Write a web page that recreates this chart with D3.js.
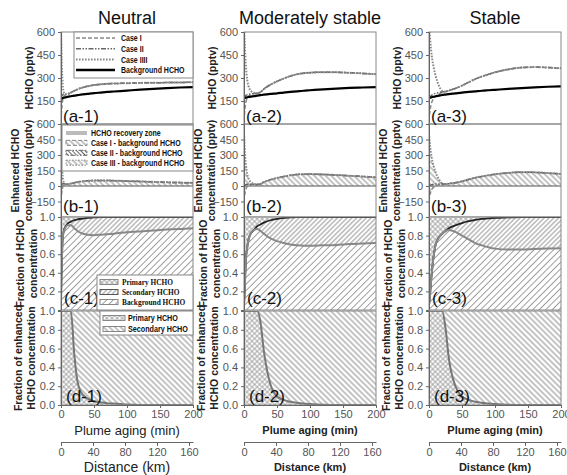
<!DOCTYPE html>
<html>
<head>
<meta charset="utf-8">
<script src="https://cdn.jsdelivr.net/npm/d3@7"></script>
<style>
  body { margin: 0; background: #fff; }
  text { font-family: "Liberation Sans", Arial, sans-serif; }
</style>
</head>
<body>
<svg width="567" height="475"></svg>
<script>
// ---------------------------------------------------------------------------------
// Data. One value per time step (plume aging, min).
// ---------------------------------------------------------------------------------
const times = [0, 1, 2, 3, 5, 7, 10, 15, 20, 25, 30, 40, 50, 60, 70, 80, 90, 100, 120, 140, 160, 180, 200];

const titles = ['Neutral', 'Moderately stable', 'Stable'];
const panelIds = ['1', '2', '3'];

// (a) HCHO, pptv
const bgNeutral   = [165, 167, 168, 170, 172, 174, 177, 181, 185, 188, 191, 196, 201, 205, 209, 212, 215, 218, 224, 229, 234, 238, 241];
const c1Neutral   = [ 20,  95, 140, 165, 185, 190, 194, 205, 216, 226, 234, 246, 254, 259, 262, 264, 265, 266, 268, 269, 270, 271, 272];
const c2Neutral   = [168, 180, 188, 192, 196, 195, 196, 205, 216, 226, 234, 246, 254, 259, 262, 264, 265, 266, 268, 269, 270, 271, 272];
const c3Neutral   = [680, 420, 300, 235, 200, 192, 194, 205, 216, 226, 234, 246, 254, 259, 262, 264, 265, 266, 268, 269, 270, 271, 272];

const bgModerate  = [168, 170, 171, 172, 174, 176, 178, 182, 185, 188, 191, 196, 200, 205, 209, 213, 217, 220, 226, 231, 235, 238, 241];
const c1Moderate  = [ 20,  80, 120, 145, 170, 182, 190, 197, 200, 208, 228, 256, 278, 296, 312, 324, 331, 335, 338, 337, 334, 330, 325];
const c2Moderate  = [170, 178, 183, 187, 191, 194, 196, 199, 200, 208, 228, 256, 278, 296, 312, 324, 331, 335, 338, 337, 334, 330, 325];
const c3Moderate  = [680, 540, 440, 370, 285, 245, 218, 204, 200, 208, 228, 256, 278, 296, 312, 324, 331, 335, 338, 337, 334, 330, 325];

const bgStable    = [168, 170, 172, 173, 176, 178, 181, 185, 189, 192, 195, 200, 205, 209, 213, 217, 220, 223, 229, 234, 239, 243, 246];
const c1Stable    = [ 20,  70, 100, 125, 150, 165, 180, 195, 205, 210, 218, 232, 250, 272, 293, 310, 324, 337, 356, 368, 371, 368, 363];
const c2Stable    = [170, 176, 180, 184, 190, 195, 200, 205, 210, 211, 218, 232, 250, 272, 293, 310, 324, 337, 356, 368, 371, 368, 363];
const c3Stable    = [680, 600, 540, 490, 420, 370, 315, 250, 216, 212, 218, 232, 250, 272, 293, 310, 324, 337, 356, 368, 371, 368, 363];

// (c) fraction of HCHO: background share (grey line) and background+secondary (dark line)
const fBgNeutral  = [0.10, 0.45, 0.70, 0.80, 0.86, 0.89, 0.91, 0.91, 0.88, 0.85, 0.83, 0.81, 0.805, 0.81, 0.815, 0.82, 0.83, 0.835, 0.845, 0.855, 0.865, 0.87, 0.88];
const fSecNeutral = [0.10, 0.45, 0.70, 0.80, 0.87, 0.90, 0.93, 0.95, 0.965, 0.975, 0.98, 0.99, 0.995, 1, 1, 1, 1, 1, 1, 1, 1, 1, 1];
const fBgModerate = [0.05, 0.20, 0.40, 0.55, 0.68, 0.76, 0.82, 0.86, 0.87, 0.85, 0.82, 0.77, 0.74, 0.72, 0.705, 0.695, 0.69, 0.69, 0.695, 0.70, 0.71, 0.715, 0.72];
const fSecModerate= [0.05, 0.20, 0.40, 0.55, 0.68, 0.76, 0.82, 0.86, 0.90, 0.92, 0.94, 0.965, 0.98, 0.99, 0.995, 1, 1, 1, 1, 1, 1, 1, 1];
const fBgStable   = [0.05, 0.12, 0.20, 0.30, 0.45, 0.58, 0.70, 0.78, 0.82, 0.85, 0.86, 0.84, 0.80, 0.76, 0.72, 0.695, 0.675, 0.66, 0.65, 0.65, 0.655, 0.66, 0.665];
const fSecStable  = [0.05, 0.12, 0.20, 0.30, 0.45, 0.58, 0.70, 0.78, 0.82, 0.85, 0.88, 0.91, 0.935, 0.955, 0.97, 0.98, 0.985, 0.99, 0.995, 1, 1, 1, 1];

// (d) primary share of enhanced HCHO
const fPrimNeutral  = [1, 1, 1, 1, 1, 1, 1, 1, 0.55, 0.25, 0.14, 0.07, 0.04, 0.03, 0.02, 0.015, 0.01, 0.005, 0, 0, 0, 0, 0];
const fPrimModerate = [1, 1, 1, 1, 1, 1, 1, 1, 1, 0.88, 0.58, 0.22, 0.09, 0.055, 0.035, 0.025, 0.015, 0.01, 0.003, 0, 0, 0, 0];
const fPrimStable   = [1, 1, 1, 1, 1, 1, 1, 1, 1, 0.82, 0.50, 0.20, 0.09, 0.055, 0.035, 0.025, 0.015, 0.01, 0.003, 0, 0, 0, 0];

// tick labels
const ticksA = [150, 300, 450, 600];
const ticksB = [-150, 0, 150, 300, 450, 600];
const ticksC = [0.2, 0.4, 0.6, 0.8, 1.0];
const ticksD = [0, 0.2, 0.4, 0.6, 0.8, 1.0];
const ticksMin = [0, 50, 100, 150, 200];
const ticksKm = [0, 40, 80, 120, 160];

const legendA = ['Case I', 'Case II', 'Case IIII', 'Background HCHO'];
const legendB = ['HCHO recovery zone', 'Case I - background HCHO', 'Case II - background HCHO', 'Case III - background HCHO'];
const legendC = ['Primary HCHO', 'Secondary HCHO', 'Background HCHO'];
const legendD = ['Primary HCHO', 'Secondary HCHO'];

// table used for drawing
const columns = [
  { bg: bgNeutral,  cases: [c1Neutral,  c2Neutral,  c3Neutral],  fBg: fBgNeutral,  fSec: fSecNeutral,  fPrim: fPrimNeutral },
  { bg: bgModerate, cases: [c1Moderate, c2Moderate, c3Moderate], fBg: fBgModerate, fSec: fSecModerate, fPrim: fPrimModerate },
  { bg: bgStable,   cases: [c1Stable,   c2Stable,   c3Stable],   fBg: fBgStable,   fSec: fSecStable,   fPrim: fPrimStable }
];

// ---------------------------------------------------------------------------------
// Layout
// ---------------------------------------------------------------------------------
const svg = d3.select('svg');
const colX = [61, 244, 429], plotW = 132;
const rows = { a: [32, 124], b: [124, 217], c: [217, 310], d: [311, 405] };
const caseDash = ['4,2', '5,1.5,1.5,1.5,1.5,1.5', '1.6,1.4'];
const caseColor = ['#888', '#666', '#888'];

const defs = svg.append('defs');
function hatch(id, angle, gap, color, w, cross) {
  const p = defs.append('pattern').attr('id', id)
    .attr('patternUnits', 'userSpaceOnUse')
    .attr('width', gap).attr('height', gap)
    .attr('patternTransform', `rotate(${angle})`);
  p.append('rect').attr('width', gap).attr('height', gap).attr('fill', '#fff');
  p.append('line').attr('x1', gap / 2).attr('x2', gap / 2).attr('y1', 0).attr('y2', gap)
    .attr('stroke', color).attr('stroke-width', w);
  if (cross) p.append('line').attr('y1', gap / 2).attr('y2', gap / 2).attr('x1', 0).attr('x2', gap)
    .attr('stroke', color).attr('stroke-width', w);
}
hatch('cross', 45, 3.6, '#888', 0.7, true);
hatch('bgHatch', 45, 4.6, '#777', 0.7, false);
hatch('secHatch', 45, 3.4, '#666', 0.7, false);
hatch('backHatch', -45, 4, '#555', 0.7, false);
hatch('backHatch2', -45, 3, '#444', 0.8, false);

function clip(id, x0, r) {
  defs.append('clipPath').attr('id', id).append('rect')
    .attr('x', x0).attr('y', r[0]).attr('width', plotW).attr('height', r[1] - r[0]);
  return `url(#${id})`;
}

function yAxis(g, y, vals, fmt) {
  const ax = g.append('g').attr('transform', `translate(${y.x0},0)`)
    .call(d3.axisLeft(y).tickValues(vals).tickSize(3).tickPadding(3).tickFormat(fmt));
  ax.select('.domain').attr('stroke', '#666');
  ax.selectAll('.tick line').attr('stroke', '#666');
  ax.selectAll('text').attr('fill', '#555').style('font-size', '11px');
}

function yLabel(x, yMid, lines, offsets) {
  lines.forEach((t, i) => {
    svg.append('text')
      .attr('transform', `translate(${x + offsets[i]},${yMid}) rotate(-90)`)
      .attr('text-anchor', 'middle').attr('dy', '0.35em')
      .style('font-size', '10.5px').style('font-weight', 'bold').attr('fill', '#222')
      .text(t);
  });
}

function frame(x0, r) {
  svg.append('rect').attr('x', x0).attr('y', r[0]).attr('width', plotW).attr('height', r[1] - r[0])
    .attr('fill', 'none').attr('stroke', '#888').attr('stroke-width', 1);
}

function panelLabel(x0, yBase, t) {
  svg.append('text').attr('x', x0 + 2).attr('y', yBase)
    .style('font-size', '17px').attr('fill', '#111').text(t);
}

columns.forEach((col, ci) => {
  const x0 = colX[ci];
  const id = panelIds[ci];
  const x = d3.scaleLinear().domain([0, 200]).range([x0, x0 + plotW]);
  const km = d3.scaleLinear().domain([0, 165]).range([x0, x0 + plotW]);
  const ya = d3.scaleLinear().domain([0, 600]).range([rows.a[1], rows.a[0]]);
  const yb = d3.scaleLinear().domain([-300, 600]).range([rows.b[1], rows.b[0]]);
  const yc = d3.scaleLinear().domain([0, 1]).range([rows.c[1], rows.c[0]]);
  const yd = d3.scaleLinear().domain([0, 1]).range([rows.d[1], rows.d[0]]);
  [ya, yb, yc, yd].forEach(s => s.x0 = x0);

  const line = (y) => d3.line().x((d, i) => x(times[i])).y(d => y(d)).curve(d3.curveMonotoneX);

  // title
  svg.append('text').attr('x', x0 + plotW / 2).attr('y', 24).attr('text-anchor', 'middle')
    .style('font-size', '18px').attr('fill', '#111').text(titles[ci]);

  // ---------------- (a) HCHO ----------------
  const ga = svg.append('g').attr('clip-path', clip('ca' + ci, x0, rows.a));
  col.cases.forEach((c, k) => {
    ga.append('path').attr('d', line(ya)(c)).attr('fill', 'none')
      .attr('stroke', caseColor[k]).attr('stroke-width', k === 2 ? 2 : 1.5)
      .attr('stroke-dasharray', caseDash[k]);
  });
  ga.append('path').attr('d', line(ya)(col.bg)).attr('fill', 'none')
    .attr('stroke', '#000').attr('stroke-width', 2.2);
  frame(x0, rows.a);
  yAxis(svg, ya, ticksA, d3.format('d'));

  // ---------------- (b) enhanced HCHO ----------------
  const gb = svg.append('g').attr('clip-path', clip('cb' + ci, x0, rows.b));
  const enh = col.cases.map(c => c.map((v, i) => v - col.bg[i]));
  const areaB = d3.area().x((d, i) => x(times[i])).y0(yb(0)).y1(d => yb(d)).curve(d3.curveMonotoneX);
  enh.forEach((e, k) => {
    gb.append('path').attr('d', areaB(e)).attr('fill', 'url(#backHatch)').attr('stroke', 'none');
  });
  gb.append('line').attr('x1', x0).attr('x2', x0 + plotW).attr('y1', yb(0)).attr('y2', yb(0))
    .attr('stroke', '#555').attr('stroke-width', 1);
  enh.forEach((e, k) => {
    gb.append('path').attr('d', line(yb)(e)).attr('fill', 'none')
      .attr('stroke', caseColor[k]).attr('stroke-width', k === 2 ? 2 : 1.5)
      .attr('stroke-dasharray', caseDash[k]);
  });
  frame(x0, rows.b);
  yAxis(svg, yb, ticksB, d3.format('d'));

  // ---------------- (c) fraction of HCHO ----------------
  const gc = svg.append('g').attr('clip-path', clip('cc' + ci, x0, rows.c));
  const areaC = (lo, hi) => d3.area().x((d, i) => x(times[i]))
    .y0((d, i) => yc(lo ? lo[i] : 0)).y1((d, i) => yc(hi ? hi[i] : 1)).curve(d3.curveMonotoneX)(times);
  gc.append('path').attr('d', areaC(null, col.fBg)).attr('fill', 'url(#bgHatch)');
  gc.append('path').attr('d', areaC(col.fBg, col.fSec)).attr('fill', 'url(#secHatch)');
  gc.append('path').attr('d', areaC(col.fSec, null)).attr('fill', 'url(#cross)');
  gc.append('path').attr('d', line(yc)(col.fSec)).attr('fill', 'none').attr('stroke', '#222').attr('stroke-width', 1.8);
  gc.append('path').attr('d', line(yc)(col.fBg)).attr('fill', 'none').attr('stroke', '#888').attr('stroke-width', 2);
  frame(x0, rows.c);
  yAxis(svg, yc, ticksC, d3.format('.1f'));

  // ---------------- (d) fraction of enhanced HCHO ----------------
  const gd = svg.append('g').attr('clip-path', clip('cd' + ci, x0, rows.d));
  const areaD = (lo, hi) => d3.area().x((d, i) => x(times[i]))
    .y0((d, i) => yd(lo ? lo[i] : 0)).y1((d, i) => yd(hi ? hi[i] : 1)).curve(d3.curveMonotoneX)(times);
  gd.append('path').attr('d', areaD(null, col.fPrim)).attr('fill', 'url(#cross)');
  gd.append('path').attr('d', areaD(col.fPrim, null)).attr('fill', 'url(#backHatch)');
  gd.append('path').attr('d', line(yd)(col.fPrim)).attr('fill', 'none').attr('stroke', '#777').attr('stroke-width', 2);
  frame(x0, rows.d);
  yAxis(svg, yd, ticksD, d3.format('.1f'));

  // ---------------- x axes ----------------
  const bold = ci > 0;
  const xa = svg.append('g').attr('transform', `translate(0,${rows.d[1]})`)
    .call(d3.axisBottom(x).tickValues(ticksMin).tickSize(3).tickPadding(2).tickSizeOuter(0));
  xa.select('.domain').attr('stroke', '#666');
  xa.selectAll('.tick line').attr('stroke', '#666');
  xa.selectAll('text').attr('fill', '#555').style('font-size', '11px');
  svg.append('text').attr('x', x0 + plotW / 2).attr('y', 430).attr('dy', '0.35em').attr('text-anchor', 'middle')
    .style('font-size', bold ? '11px' : '13px').style('font-weight', bold ? 'bold' : 'normal')
    .attr('fill', '#222').text('Plume aging (min)');

  const xk = svg.append('g').attr('transform', 'translate(0,442)')
    .call(d3.axisBottom(km).tickValues(ticksKm).tickSize(4).tickPadding(2).tickSizeOuter(0));
  xk.select('.domain').attr('stroke', '#666');
  xk.selectAll('.tick line').attr('stroke', '#666');
  xk.selectAll('text').attr('fill', '#555').style('font-size', '11px');
  svg.append('text').attr('x', x0 + plotW / 2).attr('y', 467).attr('dy', '0.35em').attr('text-anchor', 'middle')
    .style('font-size', bold ? '11px' : '14px').style('font-weight', bold ? 'bold' : 'normal')
    .attr('fill', '#222').text('Distance (km)');

  // ---------------- y labels and panel labels ----------------
  yLabel(x0, (rows.a[0] + rows.a[1]) / 2, ['HCHO (pptv)'], [-32]);
  yLabel(x0, (rows.b[0] + rows.b[1]) / 2, ['Enhanced HCHO', 'concentration (pptv)'], [-46, -33]);
  yLabel(x0, (rows.c[0] + rows.c[1]) / 2, ['Fraction of HCHO', 'concentration'], [-41, -28]);
  yLabel(x0, (rows.d[0] + rows.d[1]) / 2, ['Fraction of enhanced', 'HCHO concentration'], [-43, -30]);

  panelLabel(x0, rows.a[1] - 2, `(a-${id})`);
  panelLabel(x0, rows.b[1] - 5, `(b-${id})`);
  panelLabel(x0 + 1, rows.c[1] - 6, `(c-${id})`);
  panelLabel(x0 + 3, rows.d[1] - 3, `(d-${id})`);
});

// ---------------------------------------------------------------------------------
// Legends (first column only); texts are squeezed horizontally like the original
// ---------------------------------------------------------------------------------
function legendText(g, x, y, t, fam, size, sx) {
  g.append('text').attr('transform', `translate(${x},${y}) scale(${sx},1)`).attr('dy', '0.35em')
    .style('font-family', fam).style('font-size', size).style('font-weight', 'bold')
    .attr('fill', '#111').text(t);
}
const sans = '"Liberation Sans", Arial, sans-serif';

// (a-1)
const la = svg.append('g');
la.append('rect').attr('x', 74).attr('y', 32).attr('width', 119).attr('height', 46)
  .attr('fill', '#fff').attr('stroke', '#888');
legendA.forEach((t, i) => {
  const y = 38 + i * 10.7;
  const s = la.append('line').attr('x1', 76).attr('x2', 115).attr('y1', y).attr('y2', y);
  if (i < 3) s.attr('stroke', caseColor[i]).attr('stroke-width', i === 2 ? 2 : 1.5).attr('stroke-dasharray', caseDash[i]);
  else s.attr('stroke', '#000').attr('stroke-width', 2.5);
  legendText(la, 121, y, t, sans, '9px', 0.78);
});

// (b-1)
const lb = svg.append('g');
lb.append('rect').attr('x', 62).attr('y', 125).attr('width', 131).attr('height', 46)
  .attr('fill', '#fff').attr('stroke', '#888');
legendB.forEach((t, i) => {
  const y = 133 + i * 9.9;
  if (i === 0) {
    lb.append('line').attr('x1', 66).attr('x2', 87).attr('y1', y).attr('y2', y)
      .attr('stroke', '#bbb').attr('stroke-width', 4);
  } else {
    lb.append('rect').attr('x', 66).attr('y', y - 2.5).attr('width', 21).attr('height', 5)
      .attr('fill', i === 2 ? 'url(#backHatch2)' : 'url(#backHatch)')
      .attr('stroke', caseColor[i - 1]).attr('stroke-width', 1).attr('stroke-dasharray', caseDash[i - 1]);
  }
  legendText(lb, 91, y, t, sans, '9px', 0.78);
});

// (c-1)
const lc = svg.append('g');
lc.append('rect').attr('x', 97).attr('y', 275).attr('width', 96).attr('height', 35)
  .attr('fill', '#fff').attr('stroke', '#888');
['url(#cross)', 'url(#secHatch)', 'url(#bgHatch)'].forEach((f, i) => {
  const y = 282 + i * 10;
  lc.append('rect').attr('x', 100).attr('y', y - 2.5).attr('width', 18).attr('height', 5)
    .attr('fill', f).attr('stroke', i === 1 ? '#555' : '#888').attr('stroke-width', 1);
  legendText(lc, 122, y, legendC[i], '"Liberation Serif", "Times New Roman", serif', '9px', 0.82);
});

// (d-1)
const ld = svg.append('g');
ld.append('rect').attr('x', 100).attr('y', 311).attr('width', 93).attr('height', 24)
  .attr('fill', '#fff').attr('stroke', '#888');
['url(#cross)', 'url(#backHatch)'].forEach((f, i) => {
  const y = 318 + i * 11;
  ld.append('rect').attr('x', 103).attr('y', y - 2.5).attr('width', 22).attr('height', 5)
    .attr('fill', f).attr('stroke', '#888').attr('stroke-width', 1);
  legendText(ld, 128, y, legendD[i], sans, '9px', 0.8);
});
</script>
</body>
</html>
